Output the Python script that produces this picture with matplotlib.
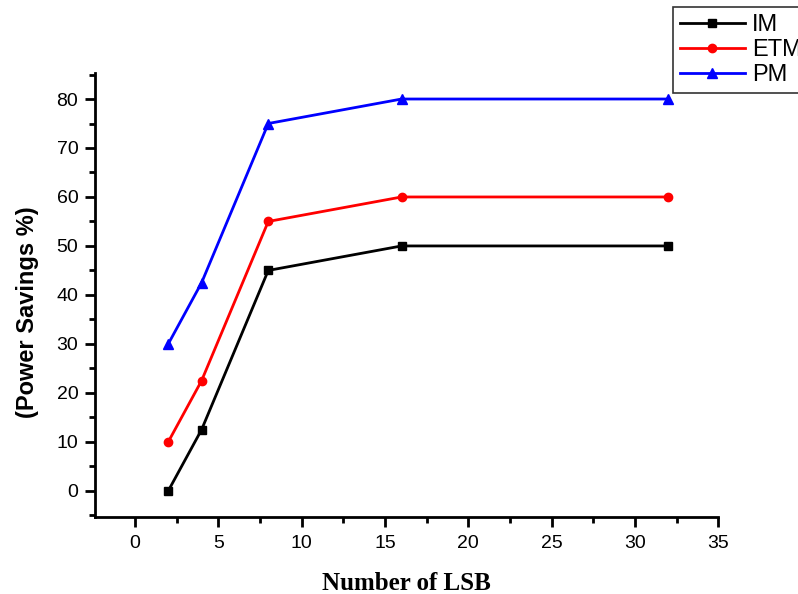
import matplotlib
matplotlib.use("Agg")
import matplotlib.pyplot as plt
from matplotlib.ticker import MultipleLocator

# data
lsb = [2, 4, 8, 16, 32]
im = [0, 12.5, 45, 50, 50]
etm = [10, 22.5, 55, 60, 60]
pm = [30, 42.5, 75, 80, 80]

plt.rcParams['font.family'] = ['Liberation Sans', 'DejaVu Sans']

fig = plt.figure(figsize=(7.98, 5.94), dpi=100)
ax = fig.add_axes([0.119, 0.13, 0.781, 0.747])

ax.plot(lsb, im, color='black', marker='s', markersize=6, linewidth=2, label='IM')
ax.plot(lsb, etm, color='red', marker='o', markersize=6, linewidth=2, label='ETM')
ax.plot(lsb, pm, color='blue', marker='^', markersize=7, linewidth=2, label='PM')

ax.set_xlim(-2.4, 35)
ax.set_ylim(-5.3, 85.3)
ax.xaxis.set_major_locator(MultipleLocator(5))
ax.xaxis.set_minor_locator(MultipleLocator(2.5))
ax.yaxis.set_major_locator(MultipleLocator(10))
ax.yaxis.set_minor_locator(MultipleLocator(5))

for s in ['top', 'right']:
    ax.spines[s].set_visible(False)
for s in ['left', 'bottom']:
    ax.spines[s].set_linewidth(2)
ax.tick_params(which='major', direction='out', length=7, width=2, labelsize=14)
ax.tick_params(which='minor', direction='out', length=4, width=2)
ax.tick_params(axis='y', pad=5)
ax.tick_params(axis='x', pad=6)

ax.set_ylabel('(Power Savings %)', fontsize=17, fontweight='bold')
ax.yaxis.set_label_coords(-0.09, 0.46)
ax.set_xlabel('Number of LSB', fontsize=18, fontweight='bold',
              family=['Liberation Serif', 'DejaVu Serif'])
ax.xaxis.set_label_coords(0.5, -0.125)

leg = fig.legend(loc='upper left', bbox_to_anchor=(0.843, 0.988), fontsize=17,
                 frameon=True, fancybox=False, edgecolor='black',
                 handlelength=2.75, handletextpad=0.3, borderpad=0.3,
                 labelspacing=0.12, borderaxespad=0)
leg.get_frame().set_linewidth(1.2)

fig.savefig('out.png', dpi=100)
